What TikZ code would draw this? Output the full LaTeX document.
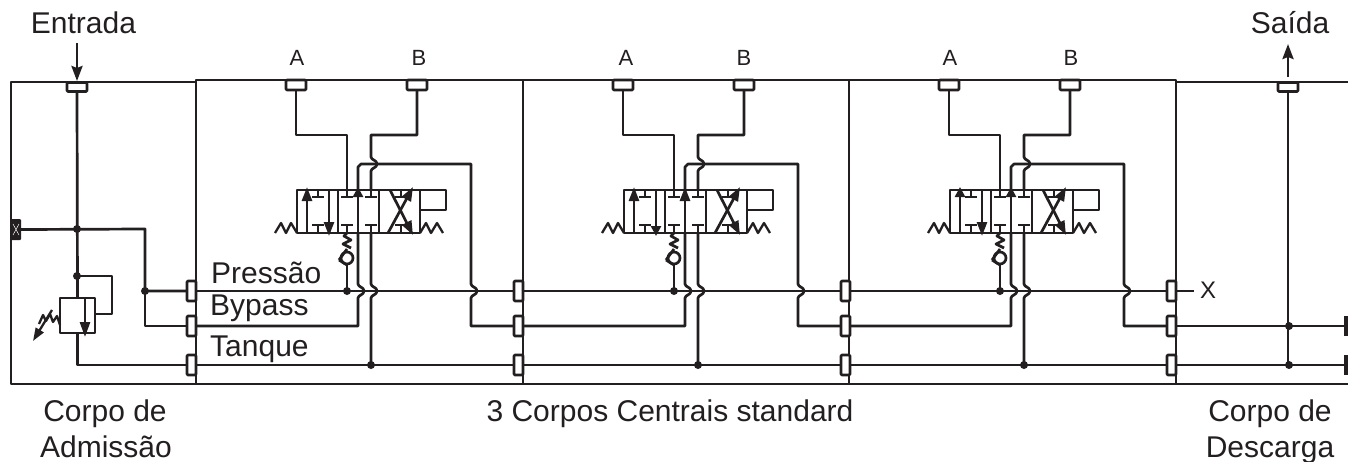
\documentclass[tikz,border=0pt]{standalone}
\usepackage{fontspec}
\setmainfont{Liberation Sans}
\usetikzlibrary{arrows.meta}
\definecolor{ink}{HTML}{231F20}
\tikzset{
  ln/.style={draw=ink,line width=2.7pt,line join=round},
  thin ln/.style={draw=ink,line width=2.3pt,line join=round},
  lbl/.style={text=ink,font=\fontsize{30}{32}\selectfont,inner sep=0pt,anchor=base},
  sm/.style={text=ink,font=\fontsize{22}{24}\selectfont,inner sep=0pt},
  vport/.style={ln,fill=white,rectangle,rounded corners=1pt,minimum width=9pt,minimum height=20pt,inner sep=0pt,outer sep=0pt},
  hport/.style={ln,fill=white,rectangle,rounded corners=1pt,minimum width=20pt,minimum height=9pt,inner sep=0pt,outer sep=0pt},
  dotn/.style={circle,fill=ink,minimum size=8pt,inner sep=0pt,outer sep=0pt},
  big/.style={ln,-{Stealth[length=15pt,width=11pt,inset=2pt]}},
  mid/.style={ln,-{Stealth[length=#1,width=10pt,inset=0pt]}},
  valve/.style={ln,rectangle,minimum width=123pt,minimum height=43pt,inner sep=0pt,outer sep=0pt},
}
\newcommand{\hopH}[2]{.. controls (#1,#2-4) and (#1+6,#2-4) .. (#1+6,#2) .. controls (#1+6,#2+4) and (#1,#2+4) .. (#1,#2+7)}
\newcommand{\teemark}[3]{\draw[thin ln] (#1,#2) -- (#1,#3) (#1-6,#3) -- (#1+6,#3);}
\begin{document}
\begin{tikzpicture}[x=1pt,y=-1pt]
\useasboundingbox (0,0) rectangle (1348,461);
% housing
\draw[ln] (196,82) -- (11,82) -- (11,384) -- (1348,384);
\draw[ln] (196,384) -- (196,80) -- (1176,80) -- (1176,384);
\draw[ln] (1176,82) -- (1348,82);
\draw[ln] (523,80) -- (523,384);
\draw[ln] (849,80) -- (849,384);
% inlet ports
\node[hport] (ein) at (77,87) {};
\node[hport] (sai) at (1288,87) {};
\node[vport] (P0) at (191.5,291) {};
\node[vport] (B0) at (191.5,326) {};
\node[vport] (T0) at (191.5,365) {};
% inlet body
\coordinate (j1) at (77,229);
\coordinate (j2) at (77,276);
\coordinate (j3) at (145,291);
\node[rectangle,fill=ink,rounded corners=1pt,minimum width=10pt,minimum height=21pt,inner sep=0pt] (xb) at (16,229.5) {};
\draw[white,line width=.5pt] (13,224) -- (19,235) (19,224) -- (13,235);
\node[ln,rectangle,minimum width=35pt,minimum height=35pt,inner sep=0pt,outer sep=0pt] (rv) at (77.5,315.5) {};
\draw[ln] (ein.south) -- (rv.north);
\draw[ln] (xb.east) -- (145,229) -- (j3) -- (P0.west);
\draw[ln] (j3) |- (B0.west);
\draw[ln] (rv.south) |- (T0.west);
\draw[ln] (j2) -- (112,276) -- (112,314) -- (95,314);
\draw[mid=15pt] (85,299) -- (85,337);
\draw[thin ln] (60,325) -- (57,316) -- (53,322) -- (50,314) -- (46,321) -- (43,315) -- (39,324);
\draw[thin ln,-{Stealth[length=13pt,width=9pt,inset=0pt]}] (52,310) -- (33,341);
\node[dotn] at (j1) {};
\node[dotn] at (j2) {};
\node[dotn] at (j3) {};
\coordinate (ein top) at (77,43);
\draw[big] (ein top) -- (77,81);
\coordinate (sai top) at (1288,44);
\draw[big] (1288,77) -- (sai top);
% central bodies
\foreach \n/\p/\dx/\lu/\ld/\lm/\xa/\xb in {1/0/0/14pt/14pt/10pt/297/419,2/1/327/14pt/10pt/14pt/299/417,3/2/653/10pt/14pt/10pt/297/418}{
  \node[vport] (P\n) at (518.5+\dx,291) {};
  \node[vport] (B\n) at (518.5+\dx,326) {};
  \node[vport] (T\n) at (518.5+\dx,365) {};
  \draw[ln] (P\p.east) -- (P\n.west);
  \draw[ln] (T\p.east) -- (T\n.west);
  \begin{scope}[xshift=\dx pt]
    \node[hport,minimum height=10pt] (a\n) at (296,85) {};
    \node[hport,minimum height=10pt] (b\n) at (417,85) {};
    \node[sm] (la\n) at (\xa,58) {A};
    \node[sm] (lb\n) at (\xb,58) {B};
    \node[valve] (v\n) at (358.5,211.5) {};
    % valve outline extras
    \draw[ln] (338,190) -- (338,233) (379,190) -- (379,233);
    \draw[ln] (420,190) -- (446,190) -- (446,210) -- (420,210);
    \draw[thin ln] (297,233) -- (291,223) -- (286,233) -- (281,223) -- (275,233);
    \draw[thin ln] (420,233) -- (426,223) -- (431,233) -- (437,223) -- (443,233);
    % section 1
    \draw[mid=\lu] (307,233) -- (307,187);
    \draw[mid=\ld] (329,190) -- (329,236);
    \teemark{318}{190}{197}
    \teemark{318}{233}{225}
    % section 2
    \teemark{347}{190}{197}
    \teemark{371}{190}{197}
    \teemark{347}{233}{225}
    \teemark{371}{233}{225}
    % section 3
    \teemark{401}{190}{197}
    \teemark{401}{233}{225}
    \draw[mid=14pt] (388,233) -- (413,187);
    \draw[mid=14pt] (390,190) -- (413,235);
    % work lines
    \draw[ln] (a\n.south) -- (296,135) -- (347,135) -- (347,190);
    \draw[ln] (b\n.south) -- (417,135) -- (371,135) -- (371,157) \hopH{371}{164} -- (371,190);
    \draw[ln] (358,190) -- (358,167) -- (361,164) -- (471,164) -- (471,284) \hopH{471}{291} -- (471,326) -- (B\n.west);
    % lower lines
    \draw[ln] (347,233) -- (344,236) -- (351,240) -- (343,244) -- (351,248);
    \draw[ln] (347,264) -- (347,291);
    \draw[ln] (347,258) circle[radius=6];
    \draw[ln] (339,260) -- (347,249) (339,260) -- (347,265);
    \draw[ln] (358,233) -- (358,284) \hopH{358}{291} -- (358,326) -- (B\p.east);
    \draw[ln] (371,233) -- (371,284) \hopH{371}{291} -- (371,365);
    \node[dotn] at (347,291) {};
    \node[dotn] at (371,365) {};
    \draw[mid=\lm] (358,233) -- (358,187);
  \end{scope}
}
% outlet body
\node[rectangle,fill=ink,minimum width=4pt,minimum height=20pt,inner sep=0pt,anchor=east] (e1) at (1348,326) {};
\node[rectangle,fill=ink,minimum width=4pt,minimum height=20pt,inner sep=0pt,anchor=east] (e2) at (1348,365) {};
\draw[ln] (B3.east) -- (e1.west);
\draw[ln] (T3.east) -- (e2.west);
\draw[ln] (P3.east) -- (1194,291);
\draw[ln] (sai.south) -- (1288,365);
\node[dotn] at (1289,326) {};
\node[dotn] at (1289,365) {};
% labels
\node[lbl] (t1) at (83.5,33) {Entrada};
\node[lbl] (t2) at (1290,33) {Saída};
\node[lbl,anchor=base west] (t3) at (211,283) {Pressão};
\node[lbl,anchor=base west] (t4) at (210,315) {Bypass};
\node[lbl,anchor=base west] (t5) at (210,356) {Tanque};
\node[lbl] (t6) at (105,421) {Corpo de};
\node[lbl] (t7) at (106,457) {Admissão};
\node[lbl] (t8) at (670,421) {3 Corpos Centrais standard};
\node[lbl] (t9) at (1270,421) {Corpo de};
\node[lbl] (t10) at (1270,457) {Descarga};
\node[text=ink,font=\fontsize{24}{26}\selectfont,inner sep=0pt] (t11) at (1208,290) {X};
\end{tikzpicture}
\end{document}
